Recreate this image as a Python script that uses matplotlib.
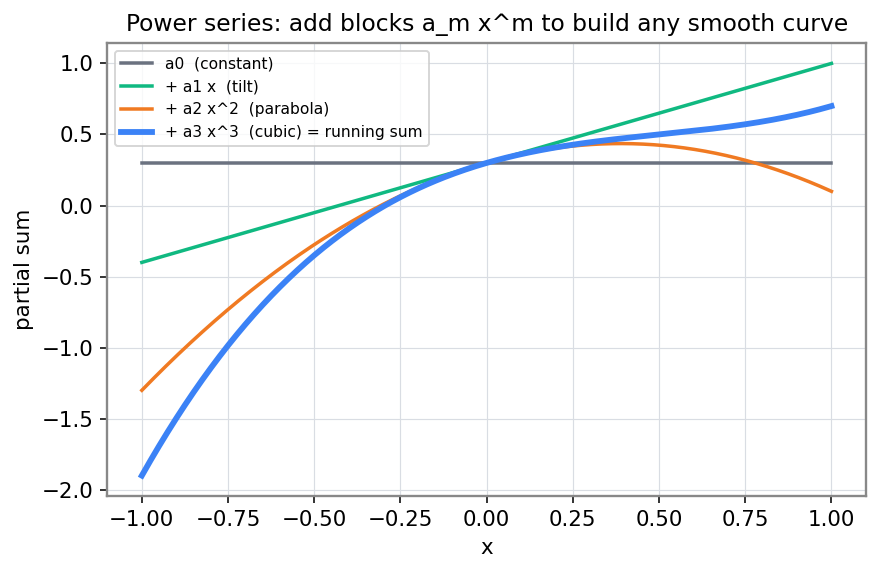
import numpy as np
import matplotlib.pyplot as plt

# power series coefficients a0..a3
coeffs = [0.3, 0.7, -0.9, 0.6]
labels = ["a0  (constant)", "+ a1 x  (tilt)", "+ a2 x^2  (parabola)",
          "+ a3 x^3  (cubic) = running sum"]
colors = ["#6b7280", "#10b981", "#f07a22", "#3b82f6"]
widths = [1.8, 1.8, 1.8, 3.0]

plt.rcParams["font.size"] = 11

x = np.linspace(-1, 1, 400)

fig, ax = plt.subplots(figsize=(6.2857, 4.0786), dpi=140)
fig.subplots_adjust(left=0.122, right=0.984, top=0.925, bottom=0.131)
partial = np.zeros_like(x)
for m, a in enumerate(coeffs):
    partial = partial + a * x**m
    ax.plot(x, partial, color=colors[m], lw=widths[m], label=labels[m])

ax.set_title("Power series: add blocks a_m x^m to build any smooth curve", fontsize=12)
ax.set_xlabel("x")
ax.set_ylabel("partial sum")
ax.grid(True, color="#d9dde3", lw=0.6)
for s in ax.spines.values():
    s.set_color("#888888")
    s.set_linewidth(1.2)
ax.legend(loc="upper left", fontsize=8)

fig.savefig("out.png")
